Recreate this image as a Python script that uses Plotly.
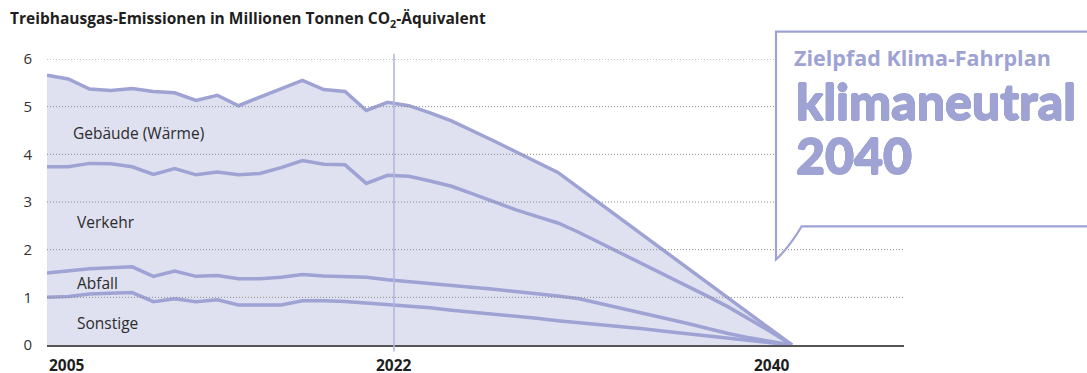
import plotly.graph_objects as go

# Jahre: historisch 2005-2022, Zielpfad bis 2040
jahre = list(range(2005, 2041))

# Emissionen je Sektor in Mio. t CO2-Äquivalent
sonstige = [1.00, 1.02, 1.07, 1.08, 1.10, 0.91, 0.97, 0.91, 0.95, 0.84, 0.84, 0.84,
            0.93, 0.93, 0.91, 0.88, 0.84, 0.82, 0.78, 0.73, 0.69, 0.64, 0.60, 0.56,
            0.51, 0.47, 0.43, 0.39, 0.34, 0.29, 0.24, 0.19, 0.14, 0.09, 0.05, 0.00]
abfall = [0.51, 0.53, 0.53, 0.54, 0.54, 0.53, 0.58, 0.53, 0.51, 0.55, 0.55, 0.58,
          0.55, 0.52, 0.52, 0.54, 0.53, 0.51, 0.52, 0.53, 0.52, 0.53, 0.52, 0.52,
          0.52, 0.50, 0.44, 0.38, 0.33, 0.28, 0.22, 0.16, 0.10, 0.06, 0.02, 0.00]
verkehr = [2.23, 2.19, 2.21, 2.18, 2.10, 2.14, 2.15, 2.13, 2.17, 2.18, 2.21, 2.30,
           2.39, 2.34, 2.35, 1.97, 2.19, 2.21, 2.14, 2.07, 1.96, 1.83, 1.72, 1.62,
           1.53, 1.39, 1.27, 1.15, 1.03, 0.91, 0.80, 0.68, 0.56, 0.40, 0.21, 0.00]
gebaeude = [1.92, 1.84, 1.56, 1.54, 1.64, 1.74, 1.59, 1.56, 1.61, 1.45, 1.60, 1.66,
            1.68, 1.57, 1.54, 1.53, 1.53, 1.48, 1.43, 1.37, 1.33, 1.28, 1.22, 1.15,
            1.06, 0.93, 0.82, 0.71, 0.60, 0.49, 0.39, 0.29, 0.19, 0.11, 0.05, 0.00]

# Sektor, Werte, Beschriftungsposition (Jahr, Höhe)
sektoren = [("Sonstige", sonstige, 2006.3, 0.47), ("Abfall", abfall, 2006.3, 1.31),
            ("Verkehr", verkehr, 2006.3, 2.59), ("Gebäude (Wärme)", gebaeude, 2006.15, 4.45)]

y_ticks = [0, 1, 2, 3, 4, 5, 6]
x_labels = [(2005, "2005", "left"), (2021.3, "2022", "center"), (2040, "2040", "right")]
stichtag = 2021.3  # Trennlinie Ist-Werte / Zielpfad

LINIE = "#9ea3d3"
FLAECHE = "#dfe1f1"
TEXT = "#2b2b2b"
FONT = "Open Sans"
FONT_BOX = "Lato"
# leichte Konturverstärkung für die große Schrift in der Sprechblase
FETT = ", ".join(f"{dx}px {dy}px 0 {LINIE}" for dx, dy in
                 [(0.6, 0), (-0.6, 0), (0, 0.6), (0, -0.6), (0.4, 0.4), (-0.4, -0.4),
                  (0.4, -0.4), (-0.4, 0.4)])

X_MIN, X_MAX = 2005, 2045.26

fig = go.Figure()
for name, werte, _, _ in sektoren:
    fig.add_trace(go.Scatter(
        x=jahre, y=werte, name=name, mode="lines", stackgroup="em",
        line=dict(color=LINIE, width=3.5), fillcolor=FLAECHE,
        hoverinfo="skip",
    ))

annotations = []
for name, _, xpos, ypos in sektoren:
    annotations.append(dict(x=xpos, y=ypos, xref="x", yref="y", text=name,
                            showarrow=False, xanchor="left", yanchor="middle",
                            font=dict(family=FONT, size=15.5, color=TEXT)))
for xv, txt, anchor in x_labels:
    annotations.append(dict(x=xv, y=0, xref="x", yref="paper", yshift=-20, text=txt,
                            showarrow=False, xanchor=anchor, yanchor="middle",
                            font=dict(family=FONT, size=15.5, color="#1e1e1e", weight=700)))

# gepunktete Hilfslinien über der Fläche
shapes = []
for yv in y_ticks[1:]:
    shapes.append(dict(type="line", xref="x", yref="y", x0=X_MIN, x1=X_MAX, y0=yv, y1=yv,
                       line=dict(color="#8a8a8a", width=1, dash="1px,2px"), layer="above"))

# Sprechblase rechts oben
box_x0 = (776 - 47) / 857
box_x1 = 1.25
box_top = (345.5 - 32) / 286.2
box_bot = (345.5 - 226.7) / 286.2
tail_y = (345.5 - 260) / 286.2
tail_x = (801.7 - 47) / 857

shapes += [
    dict(type="rect", xref="paper", yref="paper", x0=box_x0, x1=box_x1,
         y0=box_bot, y1=box_top, fillcolor="white", line=dict(width=0), layer="above"),
    dict(type="path", xref="paper", yref="paper", layer="above",
         path=f"M {box_x1},{box_top} L {box_x0},{box_top} L {box_x0},{tail_y} "
              f"Q {box_x0 + 0.016},{tail_y + 0.045} {tail_x},{box_bot} L {box_x1},{box_bot}",
         line=dict(color=LINIE, width=2.2)),
    dict(type="line", xref="x", yref="paper", x0=stichtag, x1=stichtag,
         y0=-0.023, y1=1.018, line=dict(color="#b3b7e0", width=1.6), layer="above"),
]

box_text_x = (794 - 47) / 857
annotations += [
    dict(x=box_text_x - 0.002, y=(345.5 - 58) / 286.2, xref="paper", yref="paper",
         text="Zielpfad Klima-Fahrplan", showarrow=False, xanchor="left", yanchor="middle",
         font=dict(family=FONT, size=21.5, color=LINIE, weight=700)),
    dict(x=box_text_x, y=(345.5 - 101) / 286.2, xref="paper", yref="paper",
         text="klimaneutral", showarrow=False, xanchor="left", yanchor="middle",
         font=dict(family=FONT_BOX, size=50, color=LINIE, weight=900, shadow=FETT)),
    dict(x=box_text_x, y=(345.5 - 155) / 286.2, xref="paper", yref="paper",
         text="2040", showarrow=False, xanchor="left", yanchor="middle",
         font=dict(family=FONT_BOX, size=50, color=LINIE, weight=900, shadow=FETT)),
]

fig.update_layout(
    width=1087, height=373,
    margin=dict(l=47, r=183, t=59.3, b=27.5),
    paper_bgcolor="white", plot_bgcolor="white",
    showlegend=False,
    title=dict(text="Treibhausgas-Emissionen in Millionen Tonnen CO<sub>2</sub>-Äquivalent",
               x=10 / 1087, xanchor="left", xref="container", y=1 - 19 / 373,
               yref="container", yanchor="middle",
               font=dict(family=FONT, size=15.5, color="#1e1e1e", weight=700)),
    xaxis=dict(range=[X_MIN, X_MAX], showgrid=False, zeroline=False, showticklabels=False,
               showline=True, linecolor="#555555", linewidth=1.5, ticks=""),
    yaxis=dict(range=[0, 6], tickvals=y_ticks, showgrid=False, zeroline=False,
               showline=False,
               tickfont=dict(family=FONT, size=15, color="#333333"),
               ticklabelstandoff=14),
    shapes=shapes,
    annotations=annotations,
)

fig.write_html("out.html")
